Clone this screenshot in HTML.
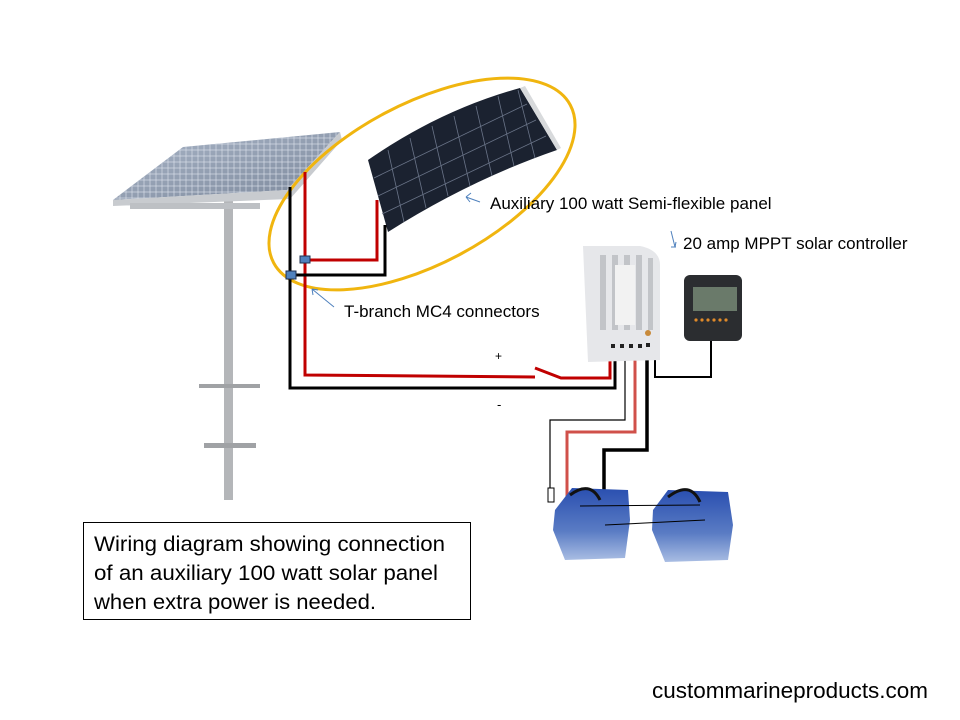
<!DOCTYPE html>
<html><head><meta charset="utf-8"><style>
html,body{margin:0;padding:0;background:#fff;}
svg{display:block;}
text{font-family:"Liberation Sans",sans-serif;fill:#000;}
</style></head><body>
<svg width="960" height="720" viewBox="0 0 960 720" xmlns="http://www.w3.org/2000/svg">
<defs>
<linearGradient id="pg" x1="0" y1="0" x2="1" y2="1"><stop offset="0" stop-color="#aab6c8"/><stop offset="1" stop-color="#7c889b"/></linearGradient>
<linearGradient id="bat" x1="0" y1="0" x2="0" y2="1"><stop offset="0" stop-color="#2a4fb0"/><stop offset="0.6" stop-color="#5a7cc4"/><stop offset="1" stop-color="#a9bde3"/></linearGradient>
<pattern id="grid" width="6" height="6" patternUnits="userSpaceOnUse"><rect width="6" height="6" fill="none" stroke="#dfe5ee" stroke-width="0.6"/></pattern>
</defs>
<!-- pole -->
<rect x="224" y="200" width="9" height="300" fill="#b4b6b9"/>
<rect x="199" y="384" width="61" height="4" fill="#a0a2a5"/>
<rect x="204" y="443" width="52" height="5" fill="#a0a2a5"/>
<!-- fixed panel -->
<polygon points="183,147 340,132 287,190 113,200" fill="url(#pg)"/>
<polygon points="183,147 340,132 287,190 113,200" fill="url(#grid)"/>
<polygon points="113,200 287,190 340,132 342,140 290,199 113,206" fill="#c8cbcf"/>
<rect x="130" y="203" width="130" height="6" fill="#bdc0c4"/>
<!-- flex panel -->
<path d="M368,160 Q440,110 520,88 L557,150 Q470,180 388,232 Z" fill="#1b2230"/>
<path d="M520,88 L525,86 L561,148 L557,150 Z" fill="#d8dadc"/>
<g stroke="#6a7488" stroke-width="0.8">
<line x1="388" y1="150" x2="404" y2="222"/><line x1="410" y1="138" x2="426" y2="208"/><line x1="432" y1="126" x2="448" y2="196"/><line x1="454" y1="116" x2="470" y2="186"/><line x1="476" y1="106" x2="492" y2="176"/><line x1="498" y1="96" x2="514" y2="166"/><line x1="518" y1="90" x2="535" y2="158"/>
<line x1="374" y1="178" x2="527" y2="104"/><line x1="378" y1="196" x2="536" y2="120"/><line x1="382" y1="214" x2="546" y2="136"/>
</g>
<!-- ellipse -->
<ellipse cx="422" cy="184" rx="168" ry="80" transform="rotate(-28 422 184)" fill="none" stroke="#f0b50f" stroke-width="3"/>
<!-- wires from panels -->
<g fill="none" stroke-linejoin="miter">
<polyline points="290,187 290,388 615,388 615,352" stroke="#000" stroke-width="3"/>
<polyline points="305,172 305,375 535,377" stroke="#c00000" stroke-width="3"/>
<polyline points="535,368 561,378 610,378 610,352" stroke="#c00000" stroke-width="3"/>
<polyline points="305,260 377,260 377,200" stroke="#c00000" stroke-width="3"/>
<polyline points="290,275 385,275 385,225" stroke="#000" stroke-width="3"/>
<polyline points="655,352 655,377 711,377 711,340" stroke="#000" stroke-width="2"/>
<polyline points="625,352 625,420 550,420 550,490" stroke="#000" stroke-width="1.2"/>
<polyline points="635,352 635,432 567,432 567,505" stroke="#d0504a" stroke-width="3"/>
<polyline points="647,352 647,450 604,450 604,525" stroke="#000" stroke-width="3.5"/>
</g>
<rect x="300" y="256" width="10" height="7" fill="#4f81bd" stroke="#1f3050" stroke-width="1"/>
<rect x="286" y="271" width="10" height="8" fill="#4f81bd" stroke="#1f3050" stroke-width="1"/>
<!-- controller -->
<path d="M583,246 L640,246 Q660,250 660,265 L660,360 L588,362 Z" fill="#e6e7ea"/>
<g fill="#c2c4c8"><rect x="600" y="255" width="6" height="75"/><rect x="612" y="255" width="6" height="75"/><rect x="624" y="255" width="6" height="75"/><rect x="636" y="255" width="6" height="75"/><rect x="648" y="258" width="5" height="72"/></g>
<rect x="615" y="265" width="20" height="60" fill="#f2f2f2"/>
<g fill="#222"><rect x="611" y="344" width="4" height="4"/><rect x="620" y="344" width="4" height="4"/><rect x="629" y="344" width="4" height="4"/><rect x="638" y="344" width="4" height="4"/><rect x="646" y="343" width="4" height="4"/></g>
<circle cx="648" cy="333" r="3" fill="#c88a3a"/>
<!-- display -->
<rect x="684" y="275" width="58" height="66" rx="6" fill="#2b2d30"/>
<rect x="693" y="287" width="44" height="24" fill="#6a7a6a"/>
<g fill="#e08a2a"><circle cx="696" cy="320" r="1.6"/><circle cx="702" cy="320" r="1.6"/><circle cx="708" cy="320" r="1.6"/><circle cx="714" cy="320" r="1.6"/><circle cx="720" cy="320" r="1.6"/><circle cx="726" cy="320" r="1.6"/></g>
<!-- fuse -->
<rect x="548" y="488" width="6" height="14" fill="#fff" stroke="#000" stroke-width="1"/>
<!-- batteries -->
<path d="M555,510 L572,488 L628,490 L630,520 L625,558 L565,560 L553,530 Z" fill="url(#bat)"/>
<path d="M653,510 L668,490 L728,492 L733,525 L728,560 L665,562 L652,530 Z" fill="url(#bat)"/>
<path d="M570,495 Q590,480 600,500 M668,497 Q690,480 700,502" stroke="#111" stroke-width="3" fill="none"/>
<line x1="580" y1="506" x2="700" y2="505" stroke="#000" stroke-width="1"/>
<line x1="605" y1="525" x2="705" y2="520" stroke="#000" stroke-width="1"/>
<!-- labels -->
<text x="490" y="209" font-size="17">Auxiliary 100 watt Semi-flexible panel</text>
<text x="683" y="249" font-size="17">20 amp MPPT solar controller</text>
<text x="344" y="317" font-size="17">T-branch MC4 connectors</text>
<text x="495" y="360" font-size="12">+</text>
<text x="497" y="409" font-size="13">-</text>
<g stroke="#4f81bd" stroke-width="1" fill="none">
<path d="M466,197 L480,202 M466,197 L471,193 M466,197 L470,202"/>
<path d="M671,231 L675,247 M671,247 L676,247 M675,247 L676,242" />
<path d="M312,289 L334,307 M312,289 L318,290 M312,289 L313,295"/>
</g>
<rect x="83.5" y="522.5" width="387" height="97" fill="none" stroke="#000" stroke-width="1"/>
<text x="94" y="551" font-size="21.5" textLength="351" lengthAdjust="spacingAndGlyphs">Wiring diagram showing connection</text>
<text x="94" y="580" font-size="21.5" textLength="344" lengthAdjust="spacingAndGlyphs">of an auxiliary 100 watt solar panel</text>
<text x="94" y="609" font-size="21.5" textLength="282" lengthAdjust="spacingAndGlyphs">when extra power is needed.</text>
<text x="928" y="698" font-size="22" text-anchor="end" textLength="276" lengthAdjust="spacingAndGlyphs">custommarineproducts.com</text>
</svg>
</body></html>
